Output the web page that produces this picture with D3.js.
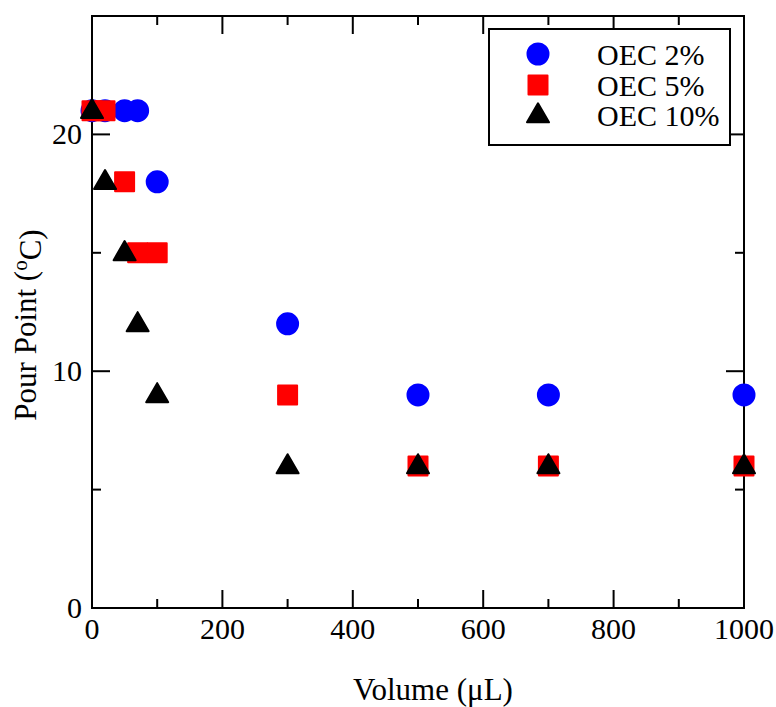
<!DOCTYPE html>
<html>
<head>
<meta charset="utf-8">
<script src="https://cdn.jsdelivr.net/npm/d3@7"></script>
<style>
  body { margin: 0; background: #fff; }
  svg text { font-family: "Liberation Serif", "Times New Roman", serif; fill: #000; }
</style>
</head>
<body>
<svg id="chart" width="776" height="707"></svg>
<script>
// data
var volumes = [0, 20, 50, 70, 100, 300, 500, 700, 1000];
var oec2  = [21, 21, 21, 21, 18, 12, 9, 9, 9];
var oec5  = [21, 21, 18, 15, 15, 9, 6, 6, 6];
var oec10 = [21, 18, 15, 12, 9, 6, 6, 6, 6];
var seriesNames = ["OEC 2%", "OEC 5%", "OEC 10%"];
var xTicks = [0, 200, 400, 600, 800, 1000];
var yTicks = [0, 10, 20];

var svg = d3.select("#chart"),
    margin = {top: 16, right: 32, bottom: 99, left: 92},
    width = 776 - margin.left - margin.right,
    height = 707 - margin.top - margin.bottom;

var xScale = d3.scaleLinear().domain([0, 1000]).range([0, width]),
    yScale = d3.scaleLinear().domain([0, 25]).range([height, 0]);

var g = svg.append("g")
    .attr("transform", "translate(" + margin.left + "," + margin.top + ")");

// frame
g.append("rect")
    .attr("width", width)
    .attr("height", height)
    .style("fill", "none")
    .style("stroke", "#000")
    .style("stroke-width", 2);

// ticks on all four sides, pointing inward
function tickSet(sel, vals, len, horiz) {
    vals.forEach(function (v) {
        if (horiz) {
            sel.append("line").attr("x1", xScale(v)).attr("x2", xScale(v))
                .attr("y1", height).attr("y2", height - len);
            sel.append("line").attr("x1", xScale(v)).attr("x2", xScale(v))
                .attr("y1", 0).attr("y2", len);
        } else {
            sel.append("line").attr("y1", yScale(v)).attr("y2", yScale(v))
                .attr("x1", 0).attr("x2", len);
            sel.append("line").attr("y1", yScale(v)).attr("y2", yScale(v))
                .attr("x1", width).attr("x2", width - len);
        }
    });
}
var ticks = g.append("g").style("stroke", "#000").style("stroke-width", 2);
tickSet(ticks, xTicks, 18, true);
tickSet(ticks, [100, 300, 500, 700, 900], 9, true);
tickSet(ticks, yTicks, 18, false);
tickSet(ticks, [5, 15, 25], 9, false);

// tick labels
g.append("g").selectAll("text")
    .data(xTicks).enter()
    .append("text")
    .attr("x", function (d) { return xScale(d); })
    .attr("y", height + 31)
    .attr("text-anchor", "middle")
    .style("font-size", "30px")
    .text(function (d) { return d; });

g.append("g").selectAll("text")
    .data(yTicks).enter()
    .append("text")
    .attr("x", -10)
    .attr("y", function (d) { return yScale(d); })
    .attr("dy", "0.33em")
    .attr("text-anchor", "end")
    .style("font-size", "30px")
    .text(function (d) { return d; });

// axis titles
svg.append("text")
    .attr("x", 433)
    .attr("y", 700)
    .attr("text-anchor", "middle")
    .style("font-size", "31px")
    .text("Volume (\u03bcL)");

var yt = svg.append("text")
    .attr("text-anchor", "middle")
    .attr("transform", "translate(36,325)rotate(-90)")
    .style("font-size", "31px");
yt.append("tspan").text("Pour Point (");
yt.append("tspan").attr("dy", "-0.45em").style("font-size", "21px").text("o");
yt.append("tspan").attr("dy", "0.45em").text("C)");

// markers
var circle = d3.symbol().type(d3.symbolCircle).size(Math.PI * 10.5 * 10.5);
var square = d3.symbol().type(d3.symbolSquare).size(19 * 19);
var tri = d3.symbol().type(d3.symbolTriangle).size(210);

var styles = [
    {vals: oec2, sym: circle, color: "#0000ff", dy: 0},
    {vals: oec5, sym: square, color: "#ff0000", dy: 0},
    {vals: oec10, sym: tri, color: "#000000", dy: 1}
];

styles.forEach(function (s) {
    g.append("g").selectAll("path")
        .data(volumes.map(function (v, i) { return [v, s.vals[i]]; }))
        .enter()
        .append("path")
        .attr("d", s.sym)
        .attr("transform", function (d) {
            return "translate(" + xScale(d[0]) + "," + (yScale(d[1]) + s.dy) + ")";
        })
        .style("fill", s.color)
        .style("stroke", s.color)
        .style("stroke-width", 2)
        .style("stroke-linejoin", "round");
});

// legend
var lg = svg.append("g");
lg.append("rect")
    .attr("x", 489).attr("y", 29)
    .attr("width", 241).attr("height", 116)
    .style("fill", "#fff")
    .style("stroke", "#000")
    .style("stroke-width", 2);

var legendY = [54, 85, 115];
styles.forEach(function (s, i) {
    lg.append("path")
        .attr("d", s.sym)
        .attr("transform", "translate(538," + (legendY[i] + s.dy) + ")")
        .style("fill", s.color)
        .style("stroke", s.color)
        .style("stroke-width", 2)
        .style("stroke-linejoin", "round");
    lg.append("text")
        .attr("x", 597)
        .attr("y", legendY[i] + 11)
        .style("font-size", "30px")
        .text(seriesNames[i]);
});
</script>
</body>
</html>
